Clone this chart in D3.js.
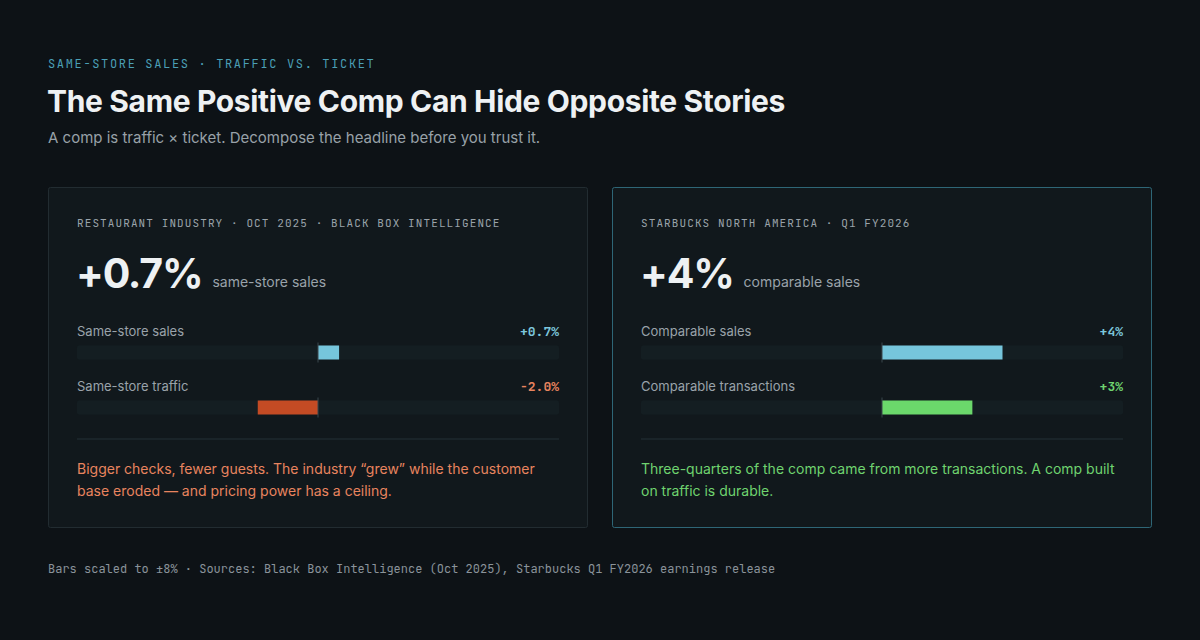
<!DOCTYPE html>
<html><head><meta charset="utf-8">
<script src="https://cdn.jsdelivr.net/npm/d3@7/dist/d3.min.js"></script>
<style>
html,body{margin:0;padding:0;background:#0d1216;}
svg{display:block;}
.sans{font-family:Inter,"Noto Sans",sans-serif;}
.mono{font-family:"JetBrains Mono","DejaVu Sans Mono",monospace;}
</style></head>
<body>
<svg id="chart" width="1200" height="640"></svg>
<script>
// ---- data ----
const eyebrow = "SAME-STORE SALES · TRAFFIC VS. TICKET";
const title = "The Same Positive Comp Can Hide Opposite Stories";
const subtitle = "A comp is traffic × ticket. Decompose the headline before you trust it.";
const footer = "Bars scaled to ±8% · Sources: Black Box Intelligence (Oct 2025), Starbucks Q1 FY2026 earnings release";
const scaleDomain = [-8, 8];

const cardLabels = ["RESTAURANT INDUSTRY · OCT 2025 · BLACK BOX INTELLIGENCE", "STARBUCKS NORTH AMERICA · Q1 FY2026"];
const headlineValues = ["+0.7%", "+4%"];
const headlineUnits = ["same-store sales", "comparable sales"];
const metricNames = [["Same-store sales", "Same-store traffic"], ["Comparable sales", "Comparable transactions"]];
const metricValues = [[0.7, -2.0], [4, 3]];
const metricLabels = [["+0.7%", "-2.0%"], ["+4%", "+3%"]];
const noteLines = [
  ["Bigger checks, fewer guests. The industry \u201cgrew\u201d while the customer", "base eroded \u2014 and pricing power has a ceiling."],
  ["Three-quarters of the comp came from more transactions. A comp built", "on traffic is durable."]
];

// ---- styles ----
const C = {
  card: "#11181c", border: ["#222c31", "#2e6676"], track: "#141e22",
  salesBar: "#76c6dc", neg: "#c44b24", pos: "#6bd86b",
  negText: "#e8845f", posText: "#6fd36f", salesText: "#7cc7dd",
  label: "#9aa3aa", big: "#eef1f3", unit: "#9aa3aa", eyebrow: "#4b9fb5",
  title: "#eef1f3", sub: "#98a1a8", footer: "#8a939a", zero: "#3b474d", divider: "#243036"
};

const svg = d3.select("#chart");
svg.append("rect").attr("width", 1200).attr("height", 640).attr("fill", "#0d1216");

svg.append("text").attr("class", "mono").attr("x", 48).attr("y", 68)
  .attr("font-size", 12).attr("letter-spacing", 1.65).attr("fill", C.eyebrow).text(eyebrow);
svg.append("text").attr("class", "sans").attr("x", 47).attr("y", 112)
  .attr("font-size", 30).attr("font-weight", 700).attr("letter-spacing", -0.35).attr("fill", C.title).text(title);
svg.append("text").attr("class", "sans").attr("x", 48).attr("y", 143)
  .attr("font-size", 15).attr("fill", C.sub).text(subtitle);
svg.append("text").attr("class", "mono").attr("x", 48).attr("y", 573)
  .attr("font-size", 12).attr("fill", C.footer).text(footer);

const cardX = [48.5, 612.5], cardY = 187.5, cardW = 539, cardH = 340, pad = 29;

cardLabels.forEach((lab, i) => {
  const g = svg.append("g").attr("transform", `translate(${cardX[i]},${cardY})`);
  g.append("rect").attr("width", cardW).attr("height", cardH).attr("rx", 2)
    .attr("fill", C.card).attr("stroke", C.border[i]).attr("stroke-width", 1);
  const x0 = pad - 0.5, x1 = cardW - pad + 0.5;
  g.append("text").attr("class", "mono").attr("x", x0).attr("y", 39.5)
    .attr("font-size", 11).attr("letter-spacing", 1.1).attr("fill", C.label).text(lab);
  const big = g.append("text").attr("class", "sans").attr("x", x0 - 1).attr("y", 100)
    .attr("font-size", 41).attr("font-weight", 700).attr("letter-spacing", -1.2).attr("fill", C.big).text(headlineValues[i]);
  const bw = big.node().getComputedTextLength();
  g.append("text").attr("class", "sans").attr("x", x0 - 1 + bw + 10).attr("y", 99)
    .attr("font-size", 14).attr("fill", C.unit).text(headlineUnits[i]);

  const x = d3.scaleLinear().domain(scaleDomain).range([x0, x1]);
  const rowY = [158, 213];
  metricNames[i].forEach((name, j) => {
    const v = metricValues[i][j];
    const y = rowY[j];
    g.append("text").attr("class", "sans").attr("x", x0).attr("y", y - 10)
      .attr("font-size", 13).attr("fill", C.label).text(name);
    const col = j === 0 ? C.salesText : (v < 0 ? C.negText : C.posText);
    g.append("text").attr("class", "mono").attr("x", x1).attr("y", y - 10)
      .attr("text-anchor", "end").attr("font-size", 13).attr("font-weight", 700).attr("fill", col).text(metricLabels[i][j]);
    g.append("rect").attr("x", x(scaleDomain[0])).attr("y", y).attr("width", x(scaleDomain[1]) - x(scaleDomain[0]))
      .attr("height", 14).attr("rx", 2).attr("fill", C.track);
    const barCol = j === 0 ? C.salesBar : (v < 0 ? C.neg : C.pos);
    g.append("rect").attr("x", Math.min(x(0), x(v))).attr("y", y).attr("width", Math.abs(x(v) - x(0)))
      .attr("height", 14).attr("fill", barCol);
    g.append("line").attr("x1", x(0)).attr("x2", x(0)).attr("y1", y - 3).attr("y2", y + 17)
      .attr("stroke", C.zero).attr("stroke-width", 1);
  });

  g.append("line").attr("x1", x0).attr("x2", x1).attr("y1", 251.5).attr("y2", 251.5)
    .attr("stroke", C.divider).attr("stroke-width", 1);
  const t = g.append("text").attr("class", "sans").attr("font-size", 14)
    .attr("fill", i === 0 ? C.negText : C.posText);
  noteLines[i].forEach((ln, k) => {
    t.append("tspan").attr("x", x0).attr("y", 286 + k * 22).text(ln);
  });
});
</script>
</body></html>
